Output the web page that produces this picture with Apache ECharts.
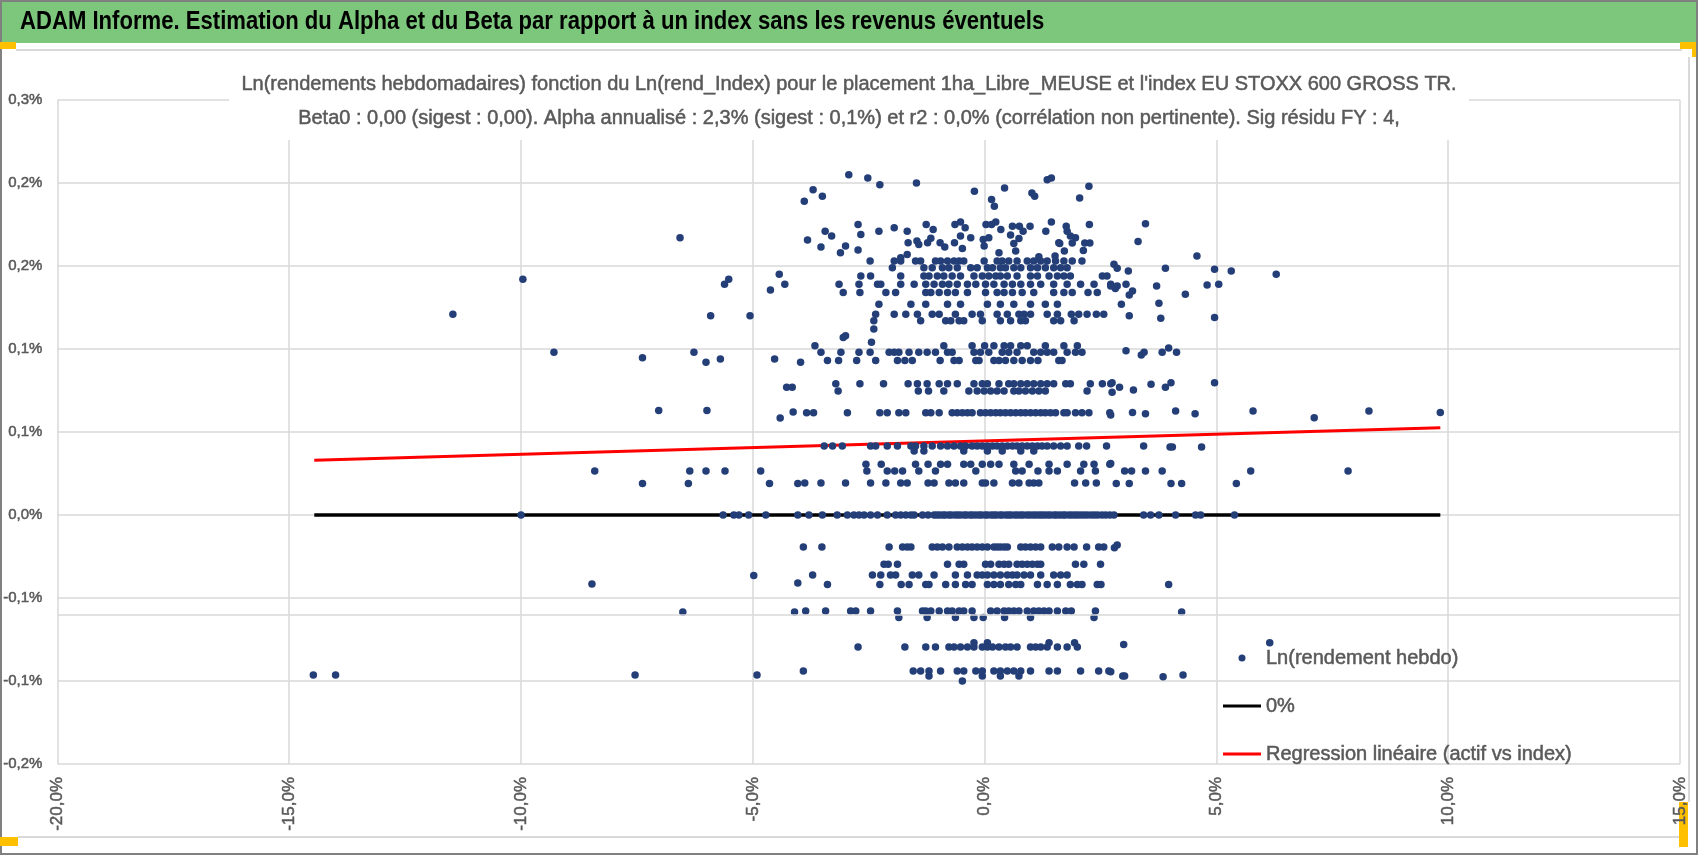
<!DOCTYPE html>
<html>
<head>
<meta charset="utf-8">
<title>ADAM Informe</title>
<script src="https://cdn.jsdelivr.net/npm/echarts@6/dist/echarts.min.js"></script>
<style>
html, body { margin: 0; padding: 0; background: #fff; }
#chart { width: 1698px; height: 855px; }
</style>
</head>
<body>
<div id="chart"></div>
<script>
var FONT = "'Liberation Sans', 'Noto Sans', sans-serif";
var GREY = '#595959';

// axes
var xMin = -20, xMax = 15, xStep = 5;
var yMin = -0.15, yMax = 0.25, yStep = 0.05;
var xTickLabels = ['-20,0%', '-15,0%', '-10,0%', '-5,0%', '0,0%', '5,0%', '10,0%', '15,0%'];
var yTickLabels = ['-0,2%', '-0,1%', '-0,1%', '0,0%', '0,1%', '0,1%', '0,2%', '0,2%', '0,3%'];

// points lying on the horizontal bands (y in %, x in %)
var bandLevels = [0.153, 0.149, 0.144, 0.139, 0.134, 0.127, 0.121, 0.117, 0.102, 0.098, 0.093,
    0.079, 0.0747, 0.0616, 0.0416, 0.0386, 0.0305, 0.0265, 0.0193, 0,
    -0.0193, -0.0297, -0.0361, -0.0418, -0.0578, -0.0618, -0.0769, -0.0795, -0.094, -0.097, -0.1];
var bandXs = [
    [-2.47,-1.95,-1.81,-1.49,-1.38,-1.06,-0.95,-0.80,-0.66,-0.55,-0.45,-0.01,0.27,0.38,0.52,0.70,0.92,1.06,1.21,1.35,1.53,1.71,1.89,2.10],
    [-1.99,-1.31,-1.13,-0.91,-0.77,-0.59,-0.30,-0.16,0.06,0.17,0.34,0.45,0.63,0.78,0.99,1.14,1.31,1.49,1.64,1.78],
    [-2.67,-2.46,-1.81,-1.31,-1.20,-1.02,-0.88,-0.70,-0.52,-0.23,-0.05,0.09,0.24,0.34,0.49,0.70,0.99,1.14,1.39,1.57,1.71,1.85,2.54,2.64],
    [-3.14,-2.71,-2.31,-2.24,-1.81,-1.52,-1.27,-1.09,-0.91,-0.77,-0.59,-0.37,-0.19,0.02,0.20,0.42,0.60,0.78,0.99,1.21,1.49,1.78,2.07,2.36,2.72],
    [-3.05,-2.69,-2.13,-1.92,-1.27,-1.16,-0.98,-0.80,-0.63,-0.37,0.02,0.27,0.42,0.60,0.81,1.06,1.49,1.71,1.89,2.23,2.43],
    [-2.28,-1.59,-1.27,-0.80,-0.52,0.06,0.34,0.63,0.99,1.31,1.57],
    [-2.35,-1.95,-1.70,-1.45,-1.13,-0.98,-0.63,-0.27,-0.09,0.27,0.49,0.74,0.85,0.99,1.35,1.57,1.87,2.03,2.21,2.41,2.57],
    [-2.39,-1.38,-0.84,-0.73,-0.55,-0.45,-0.05,0.34,0.56,0.78,0.88,1.49,1.64,1.93],
    [-3.66,-0.88,-0.27,0,0.20,0.42,0.56,0.78,0.92,1.31,1.71,2.00],
    [-3.53,-3.10,-2.71,-2.47,-2.06,-1.95,-1.85,-1.63,-1.42,-1.24,-1.06,-0.80,-0.70,-0.23,-0.09,0.09,0.38,0.52,0.70,1.06,1.21,1.35,1.49,1.78,1.96,2.10],
    [-3.39,-3.15,-2.76,-2.35,-1.88,-1.72,-1.56,-0.96,-0.66,-0.55,-0.19,-0.12,0.20,0.31,0.45,0.63,0.81,0.99,1.15,1.60,1.67],
    [-3.21,-2.69,-2.18,-1.65,-1.45,-1.24,-0.98,-0.80,-0.59,-0.23,-0.05,0.06,0.31,0.52,0.63,0.78,0.92,1.06,1.21,1.35,1.49,1.75,1.85,2.28,2.54,2.72],
    [-3.16,-1.43,-1.21,-0.88,-0.34,-0.16,-0.01,0.13,0.27,0.42,0.63,0.74,0.88,1.03,1.17,1.31,2.21],
    [-3.84,-3.69,-2.96,-2.26,-2.10,-1.85,-1.70,-1.27,-1.16,-0.98,-0.70,-0.59,-0.48,-0.37,-0.27,-0.09,0.02,0.13,0.24,0.34,0.45,0.56,0.67,0.78,0.88,0.99,1.10,1.21,1.31,1.42,1.53,1.71,1.78,1.96,2.10,2.25,2.70],
    [-3.46,-3.28,-3.07,-2.46,-2.35,-2.10,-1.88,-1.59,-1.49,-1.31,-1.13,-0.95,-0.80,-0.66,-0.52,-0.41,-0.27,-0.16,-0.05,0.06,0.17,0.27,0.38,0.49,0.60,0.70,0.81,0.92,1.03,1.14,1.24,1.35,1.49,1.64,1.78,2.03,2.20,2.63],
    [-1.52,-1.31,-0.45,0.06,0.38,0.78,1.06],
    [-2.56,-2.23,-1.49,-1.22,-0.95,-0.80,-0.45,-0.30,-0.05,0.13,0.31,0.63,0.96,1.39,1.78,2.14,2.36,2.70],
    [-2.54,-2.10,-1.94,-1.77,-1.42,-1.06,-0.19,0.67,0.81,1.15,1.39,1.57,2.07,2.39],
    [-3.88,-3.53,-3.00,-2.46,-2.13,-1.81,-1.67,-1.22,-1.09,-0.77,-0.63,-0.45,-0.05,0.02,0.20,0.60,0.74,0.96,1.06,1.17,1.94,2.18,2.41],
    [-3.79,-3.50,-3.18,-2.96,-2.82,-2.71,-2.60,-2.46,-2.31,-2.10,-1.92,-1.81,-1.70,-1.59,-1.52,-1.34,-1.22,
     -1.09,-1.03,-0.97,-0.9,-0.85,-0.77,-0.72,-0.64,-0.58,-0.52,-0.44,-0.39,-0.31,-0.26,-0.19,-0.12,-0.07,0.01,0.06,0.14,0.2,0.25,0.33,0.38,
     0.46,0.52,0.57,0.65,0.71,0.78,0.83,0.91,0.97,1.04,1.1,1.17,1.23,1.29,1.36,1.42,1.5,1.55,1.62,1.69,1.74,1.82,1.88,1.95,2.01,2.08,2.15,
     2.22,2.3,2.37,2.44,2.53,2.61,2.7,2.79,3.43,3.58,3.76,4.12,4.55,4.66,5.39],
    [-3.91,-3.51,-2.06,-1.77,-1.67,-1.59,-1.13,-1.02,-0.91,-0.77,-0.59,-0.48,-0.37,-0.27,-0.16,-0.05,0.06,0.20,0.27,0.34,0.42,0.49,0.78,0.88,0.99,1.10,1.21,1.46,1.60,1.78,1.93,2.20,2.46,2.57],
    [-2.17,-2.08,-1.88,-0.80,-0.55,-0.45,0.02,0.13,0.31,0.42,0.52,0.70,0.81,0.92,1.03,1.14,1.21,1.96,2.14,2.50],
    [-3.71,-2.42,-2.24,-2.03,-1.92,-1.56,-1.42,-1.09,-0.63,-0.37,-0.16,-0.05,0.06,0.20,0.34,0.49,0.60,0.70,0.85,0.99,1.21,1.49,1.64,1.78],
    [-3.39,-2.26,-1.80,-1.63,-1.27,-1.20,-0.84,-0.63,-0.41,-0.27,0.06,0.20,0.34,0.52,0.67,0.78,1.14,1.35,1.57,1.85,2.00,2.10,2.43,2.51],
    [-3.86,-3.43,-2.89,-2.78,-2.46,-1.88,-1.34,-1.27,-1.16,-0.98,-0.80,-0.70,-0.55,-0.45,-0.27,0.13,0.27,0.42,0.52,0.63,0.74,0.92,1.06,1.17,1.28,1.39,1.57,1.75,1.87,2.39],
    [-1.85,-1.24,-0.63,-0.23,-0.03,0.43,0.99,2.36],
    [-0.23,0.06,1.39,1.94],
    [-2.73,-1.72,-1.27,-1.06,-0.77,-0.66,-0.52,-0.37,-0.23,-0.05,0.06,0.17,0.31,0.45,0.56,0.70,0.99,1.10,1.21,1.35,1.57,1.78,2.00],
    [-3.91,-1.54,-1.38,-1.20,-0.95,-0.59,-0.45,-0.19,-0.05,0.20,0.34,0.49,0.63,0.78,0.99,1.39,1.57,2.07,2.46,2.68],
    [-1.20,-0.05,0.34,0.74],
    [-0.48]
];

// scattered points [x %, y %]
var loosePoints = [
    [-6.57,0.167],[-9.96,0.142],[-4.43,0.145],[-5.52,0.142],[-5.61,0.139],[-4.31,0.139],[-4.62,0.1355],
    [-11.47,0.121],[-5.91,0.120],[-5.06,0.120],[-9.29,0.098],[-7.38,0.0947],[-6.27,0.098],[-6.01,0.092],
    [-5.70,0.094],[-4.53,0.094],[-3.97,0.092],[-4.27,0.077],[-4.15,0.077],[-7.03,0.063],[-5.99,0.063],
    [-4.41,0.0585],[-4.13,0.062],[-8.41,0.0265],[-6.36,0.0265],[-6.01,0.0265],[-5.60,0.0265],[-4.83,0.0265],
    [-7.38,0.019],[-6.39,0.019],[-4.64,0.019],[-4.03,0.019],[-10.0,0],[-5.64,0],[-5.41,0],[-5.30,0],
    [-5.09,0],[-4.72,0],[-4.03,0],[-8.47,-0.0416],[-4.98,-0.0365],[-4.03,-0.041],[-6.51,-0.0584],
    [-4.10,-0.0584],[-14.48,-0.0964],[-14.0,-0.0964],[-7.54,-0.0964],[-4.91,-0.0964],
    [-2.93,0.205],[-2.52,0.203],[-2.26,0.199],[-1.47,0.200],[-3.70,0.196],[-3.89,0.189],[-3.50,0.192],
    [-0.22,0.195],[0.15,0.190],[0.21,0.186],[0.43,0.197],[1.02,0.194],[1.08,0.192],[1.35,0.202],
    [1.44,0.203],[2.25,0.198],[2.05,0.191],
    [-2.73,0.175],[-2.67,0.169],[-2.28,0.171],[-1.95,0.173],[-1.67,0.171],[-1.26,0.175],[-1.11,0.172],
    [-0.64,0.175],[-0.52,0.1765],[-0.42,0.173],[0.03,0.175],[0.15,0.175],[0.24,0.1765],[0.35,0.172],
    [0.60,0.174],[0.75,0.174],[0.83,0.171],[0.98,0.174],[1.32,0.171],[1.44,0.1765],[1.76,0.174],
    [1.78,0.171],[2.26,0.175],[-3.44,0.171],[-3.30,0.168],
    [-3.82,0.1657],[-3.53,0.1614],[-3.00,0.162],[-3.11,0.158],[-2.73,0.1596],[-1.65,0.164],[-1.46,0.165],
    [-1.42,0.163],[-1.23,0.164],[-1.16,0.1667],[-0.96,0.164],[-0.86,0.1614],[-0.65,0.164],[-0.52,0.168],
    [-0.48,0.1606],[-0.30,0.167],[-0.03,0.166],[-0.01,0.162],[0.09,0.167],[0.31,0.158],[0.56,0.1687],
    [0.74,0.1665],[0.63,0.1636],[0.67,0.159],[1.17,0.1556],[1.52,0.156],[1.62,0.1636],[1.72,0.159],
    [1.89,0.1638],[1.96,0.167],[2.16,0.1638],[2.27,0.1638],[2.13,0.1594],[-1.81,0.155],[-1.67,0.157],
    [1.60,0.164],[1.85,0.168],
    [-2.39,0.112],[-3.05,0.107],[-3.00,0.108],[-2.44,0.104],
    [3.47,0.1755],[3.31,0.1647],[4.58,0.156],[2.79,0.151],[2.86,0.1486],[3.10,0.147],[3.90,0.1486],
    [4.96,0.148],[5.32,0.147],[6.29,0.145],[2.72,0.138],[2.82,0.1365],[2.86,0.138],[3.05,0.139],
    [3.19,0.135],[3.12,0.1325],[3.71,0.138],[4.80,0.1386],[5.05,0.139],[4.33,0.133],[2.95,0.127],
    [3.76,0.1275],[3.12,0.120],[3.80,0.1185],[4.96,0.119],[3.05,0.099],[3.38,0.0964],[3.44,0.098],
    [3.83,0.098],[3.97,0.1006],[4.14,0.098],[2.75,0.0797],[2.75,0.074],[2.91,0.077],[3.21,0.0753],
    [3.59,0.0787],[3.90,0.077],[4.02,0.0797],[4.96,0.0797],[2.72,0.0602],[3.19,0.0618],[3.47,0.061],
    [4.12,0.0627],[4.54,0.061],[5.79,0.0627],[7.11,0.0586],[8.29,0.0627],[9.83,0.0617],
    [3.43,0.0416],[4.00,0.041],[4.05,0.041],[4.68,0.041],[2.72,0.031],[3.02,0.0265],[3.17,0.0265],
    [3.47,0.0265],[3.83,0.0265],[2.84,0.019],[3.12,0.019],[4.02,0.019],[4.25,0.019],[5.74,0.0265],
    [5.43,0.019],[7.84,0.0265],[2.80,-0.0197],[2.86,-0.018],[3.97,-0.0418],[4.25,-0.0584],[3.00,-0.078],
    [6.15,-0.077],[2.72,-0.0944],[2.98,-0.097],[3.02,-0.097],[3.85,-0.0974],[4.28,-0.0964]
];

// reference lines
var zeroLineX = [-14.46, 9.83];
var zeroLineY = [0, 0];
var regressionX = [-14.46, 9.83];
var regressionY = [0.033, 0.0525];
var extraGridY = [-0.0614];

var seriesNames = ['Ln(rendement hebdo)', '0%', 'Regression linéaire (actif vs index)'];
var LINE_ICON = 'path://M0,0H38V3H0Z';

function buildScatter() {
    var out = [];
    for (var i = 0; i < bandLevels.length; i++) {
        for (var j = 0; j < bandXs[i].length; j++) {
            out.push([bandXs[i][j], bandLevels[i]]);
        }
    }
    for (var k = 0; k < loosePoints.length; k++) {
        out.push(loosePoints[k]);
    }
    return out;
}

function pairs(xs, ys) {
    var out = [];
    for (var i = 0; i < xs.length; i++) out.push([xs[i], ys[i]]);
    return out;
}

// slightly heavier text, closer to the original rendering
function heavy(size, extra) {
    var s = { fontFamily: FONT, fontSize: size, color: GREY, textBorderColor: GREY, textBorderWidth: 0.5 };
    for (var k in extra) s[k] = extra[k];
    return s;
}

var myChart = echarts.init(document.getElementById('chart'));

var option = {
    animation: false,
    backgroundColor: '#fff',
    textStyle: { fontFamily: FONT },
    title: {
        text: "Ln(rendements hebdomadaires) fonction du Ln(rend_Index) pour le placement 1ha_Libre_MEUSE et l'index EU STOXX 600 GROSS TR.\n" +
              "Beta0 : 0,00 (sigest : 0,00). Alpha annualisé : 2,3% (sigest : 0,1%) et r2 : 0,0% (corrélation non pertinente). Sig résidu FY : 4,",
        left: 'center',
        top: 62,
        padding: [5, 12, 5, 12],
        backgroundColor: '#fff',
        textStyle: heavy(20, { fontWeight: 'normal', lineHeight: 34 })
    },
    legend: {
        orient: 'vertical',
        left: 1218,
        top: 640,
        itemWidth: 38,
        itemHeight: 7,
        itemGap: 22,
        data: [
            { name: seriesNames[0], icon: 'circle' },
            { name: seriesNames[1], icon: LINE_ICON },
            { name: seriesNames[2], icon: LINE_ICON }
        ],
        textStyle: heavy(20, { lineHeight: 26 })
    },
    grid: { left: 56, right: 18, top: 100, bottom: 91 },
    xAxis: {
        type: 'value',
        min: xMin, max: xMax, interval: xStep,
        axisLine: { show: false },
        axisTick: { show: false },
        splitLine: { lineStyle: { color: '#d9d9d9', width: 1.5 } },
        axisLabel: heavy(17, {
            rotate: 90, margin: 13,
            formatter: function (v) { return xTickLabels[Math.round((v - xMin) / xStep)]; }
        })
    },
    yAxis: {
        type: 'value',
        min: yMin, max: yMax, interval: yStep,
        axisLine: { show: false },
        axisTick: { show: false },
        splitLine: { lineStyle: { color: '#d9d9d9', width: 1.5 } },
        axisLabel: heavy(15, {
            margin: 15,
            formatter: function (v) { return yTickLabels[Math.round((v - yMin) / yStep)]; }
        })
    },
    series: [
        {
            name: seriesNames[0],
            type: 'scatter',
            data: buildScatter(),
            symbolSize: 7.5,
            itemStyle: { color: '#243f78', opacity: 1 },
            z: 4
        },
        {
            name: seriesNames[1],
            type: 'line',
            data: pairs(zeroLineX, zeroLineY),
            symbol: 'none',
            lineStyle: { color: '#000', width: 3.5 },
            itemStyle: { color: '#000' },
            z: 3,
            markLine: {
                silent: true,
                symbol: 'none',
                label: { show: false },
                lineStyle: { color: '#d9d9d9', width: 1.5, type: 'solid' },
                data: extraGridY.map(function (v) { return { yAxis: v }; })
            }
        },
        {
            name: seriesNames[2],
            type: 'line',
            data: pairs(regressionX, regressionY),
            symbol: 'none',
            lineStyle: { color: '#ff0000', width: 3 },
            itemStyle: { color: '#ff0000' },
            z: 3
        }
    ],
    graphic: [
        { type: 'rect', shape: { x: 0, y: 0, width: 1698, height: 43 }, style: { fill: '#7dc77d' } },
        { type: 'text', x: 20, y: 22, scaleX: 0.85, style: { text: 'ADAM Informe. Estimation du Alpha et du Beta par rapport à un index sans les revenus éventuels',
            font: 'bold 26px ' + FONT, fill: '#000', verticalAlign: 'middle' } },
        { type: 'line', shape: { x1: 16, y1: 50, x2: 1682, y2: 50 }, style: { stroke: '#d9d9d9', lineWidth: 2 } },
        { type: 'line', shape: { x1: 1689, y1: 57, x2: 1689, y2: 802 }, style: { stroke: '#d9d9d9', lineWidth: 2 } },
        { type: 'line', shape: { x1: 18, y1: 837, x2: 1680, y2: 837 }, style: { stroke: '#d9d9d9', lineWidth: 2 } },
        { type: 'rect', shape: { x: 1, y: 1, width: 1696, height: 853 }, style: { fill: 'none', stroke: '#808080', lineWidth: 2 } },
        { type: 'rect', shape: { x: 0, y: 42, width: 16, height: 7 }, style: { fill: '#ffc000' } },
        { type: 'rect', shape: { x: 1680, y: 42, width: 16, height: 7 }, style: { fill: '#ffc000' } },
        { type: 'rect', shape: { x: 1692, y: 42, width: 4, height: 15 }, style: { fill: '#ffc000' } },
        { type: 'rect', shape: { x: 1679, y: 802, width: 9, height: 45 }, style: { fill: '#ffc000' } },
        { type: 'rect', shape: { x: 0, y: 837, width: 18, height: 9 }, style: { fill: '#ffc000' } }
    ]
};

myChart.setOption(option);
</script>
</body>
</html>
